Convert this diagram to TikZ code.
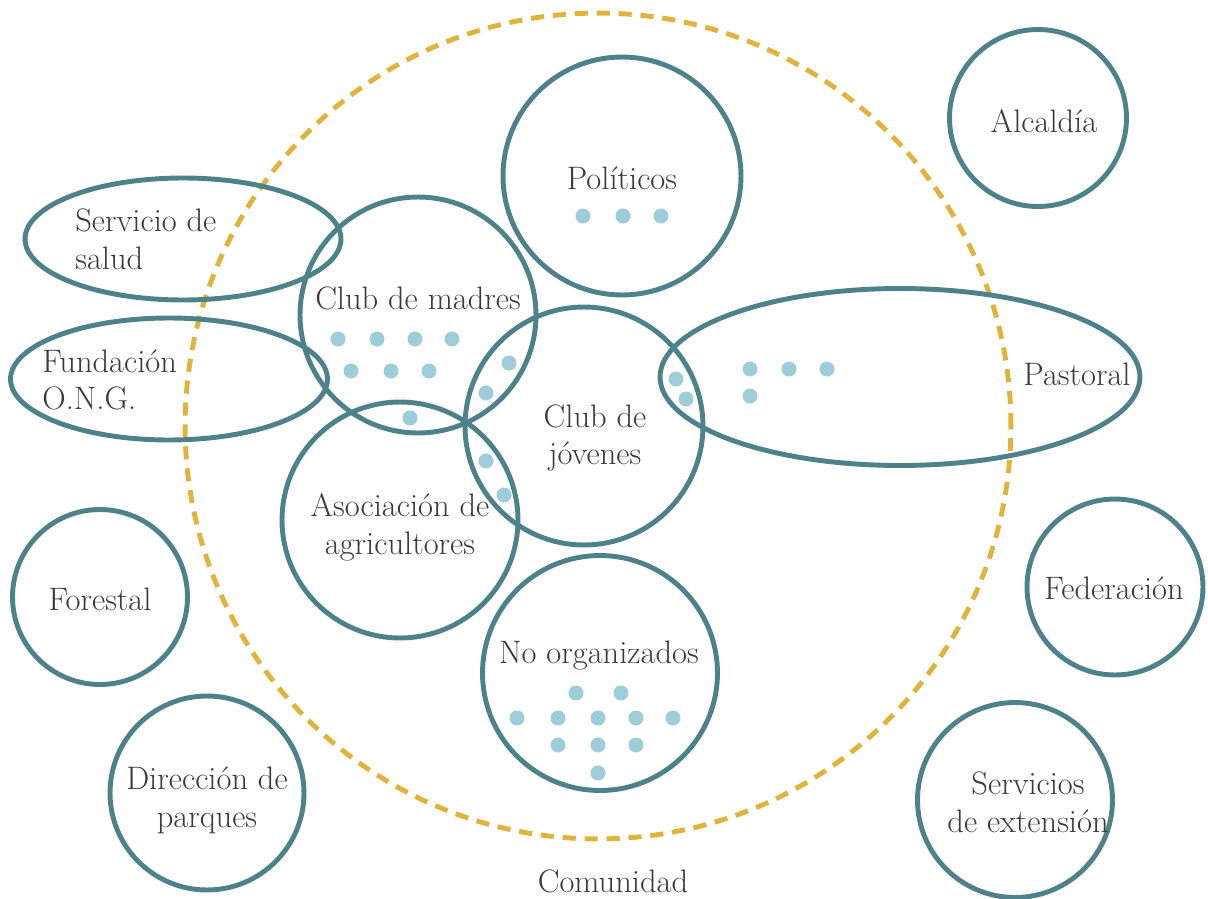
\documentclass[tikz,border=0pt]{standalone}
\usepackage{fontspec}
\usepackage{xcolor}
\usetikzlibrary{shapes.geometric}

\definecolor{ringc}{HTML}{4E828B}
\definecolor{dotc}{HTML}{9DCDD8}
\definecolor{commc}{HTML}{E0B43C}
\definecolor{txtc}{HTML}{3A3A3A}

\tikzset{
  ring/.style={draw=ringc, line width=2.8pt, circle, inner sep=0pt},
  oval/.style={draw=ringc, line width=2.8pt, ellipse, inner sep=0pt},
  lbl/.style={text=txtc, font=\fontsize{18.5}{21.5}\selectfont, align=center, inner sep=0pt},
}

\begin{document}
\begin{tikzpicture}[x=0.02cm, y=-0.02cm]
\useasboundingbox (0,0) rectangle (1208,899);
% community
\draw[commc, line width=2.8pt, dash pattern=on 7.5pt off 5pt] (598,426) circle [radius=8.26cm];
\node[lbl] (comunidad) at (613,881) {Comunidad};

% groups
\node[ring, minimum size=4.76cm] (politicos) at (622,176) {};
\node[ring, minimum size=3.54cm] (alcaldia) at (1038,118) {};
\node[oval, minimum width=6.32cm, minimum height=2.44cm] (salud) at (183,239) {};
\node[oval, minimum width=6.34cm, minimum height=2.44cm] (ong) at (169,379) {};
\node[ring, minimum size=4.72cm] (madres) at (418,315) {};
\node[ring, minimum size=4.76cm] (jovenes) at (584,426) {};
\node[oval, minimum width=9.6cm, minimum height=3.54cm] (pastoral) at (900,377) {};
\node[ring, minimum size=4.72cm] (agricultores) at (400,520) {};
\node[ring, minimum size=3.5cm] (forestal) at (100,597) {};
\node[ring, minimum size=3.52cm] (federacion) at (1115,587) {};
\node[ring, minimum size=4.7cm] (noorg) at (600,673) {};
\node[ring, minimum size=3.88cm] (parques) at (207,793) {};
\node[ring, minimum size=3.9cm] (extension) at (1015,800) {};

% labels
\node[lbl] (l-politicos) at (622,178) {Políticos};
\node[lbl] (l-alcaldia) at (1044,121) {Alcaldía};
\node[lbl, align=left, anchor=west] (l-salud) at (75,239) {Servicio de\\salud};
\node[lbl, align=left, anchor=west] (l-ong) at (42,380) {Fundación\\O.N.G.};
\node[lbl] (l-madres) at (418,298) {Club de madres};
\node[lbl] (l-jovenes) at (595,438) {Club de\\jóvenes};
\node[lbl] (l-pastoral) at (1077,374) {Pastoral};
\node[lbl] (l-agricultores) at (400,527) {Asociación de\\agricultores};
\node[lbl] (l-forestal) at (100,599) {Forestal};
\node[lbl] (l-federacion) at (1114,588) {Federación};
\node[lbl] (l-noorg) at (599,656) {No organizados};
\node[lbl] (l-parques) at (207,800) {Dirección de\\parques};
\node[lbl] (l-extension) at (1028,802) {Servicios\\de extensión};

% members
\foreach \p in {(583,216),(623,216),(661,216),
                (338,339),(377,339),(415,339),(452,339),
                (351,371),(391,371),(429,371),(410,418),
                (509,363),(486,393),(486,461),(504,495),
                (676,379),(686,399),(750,369),(789,369),(827,369),(750,396),
                (576,693),(621,693),
                (517,718),(558,718),(598,718),(636,718),(673,718),
                (558,745),(598,745),(636,745),(598,773)}
  \fill[dotc] \p circle (0.15cm);
\end{tikzpicture}
\end{document}
